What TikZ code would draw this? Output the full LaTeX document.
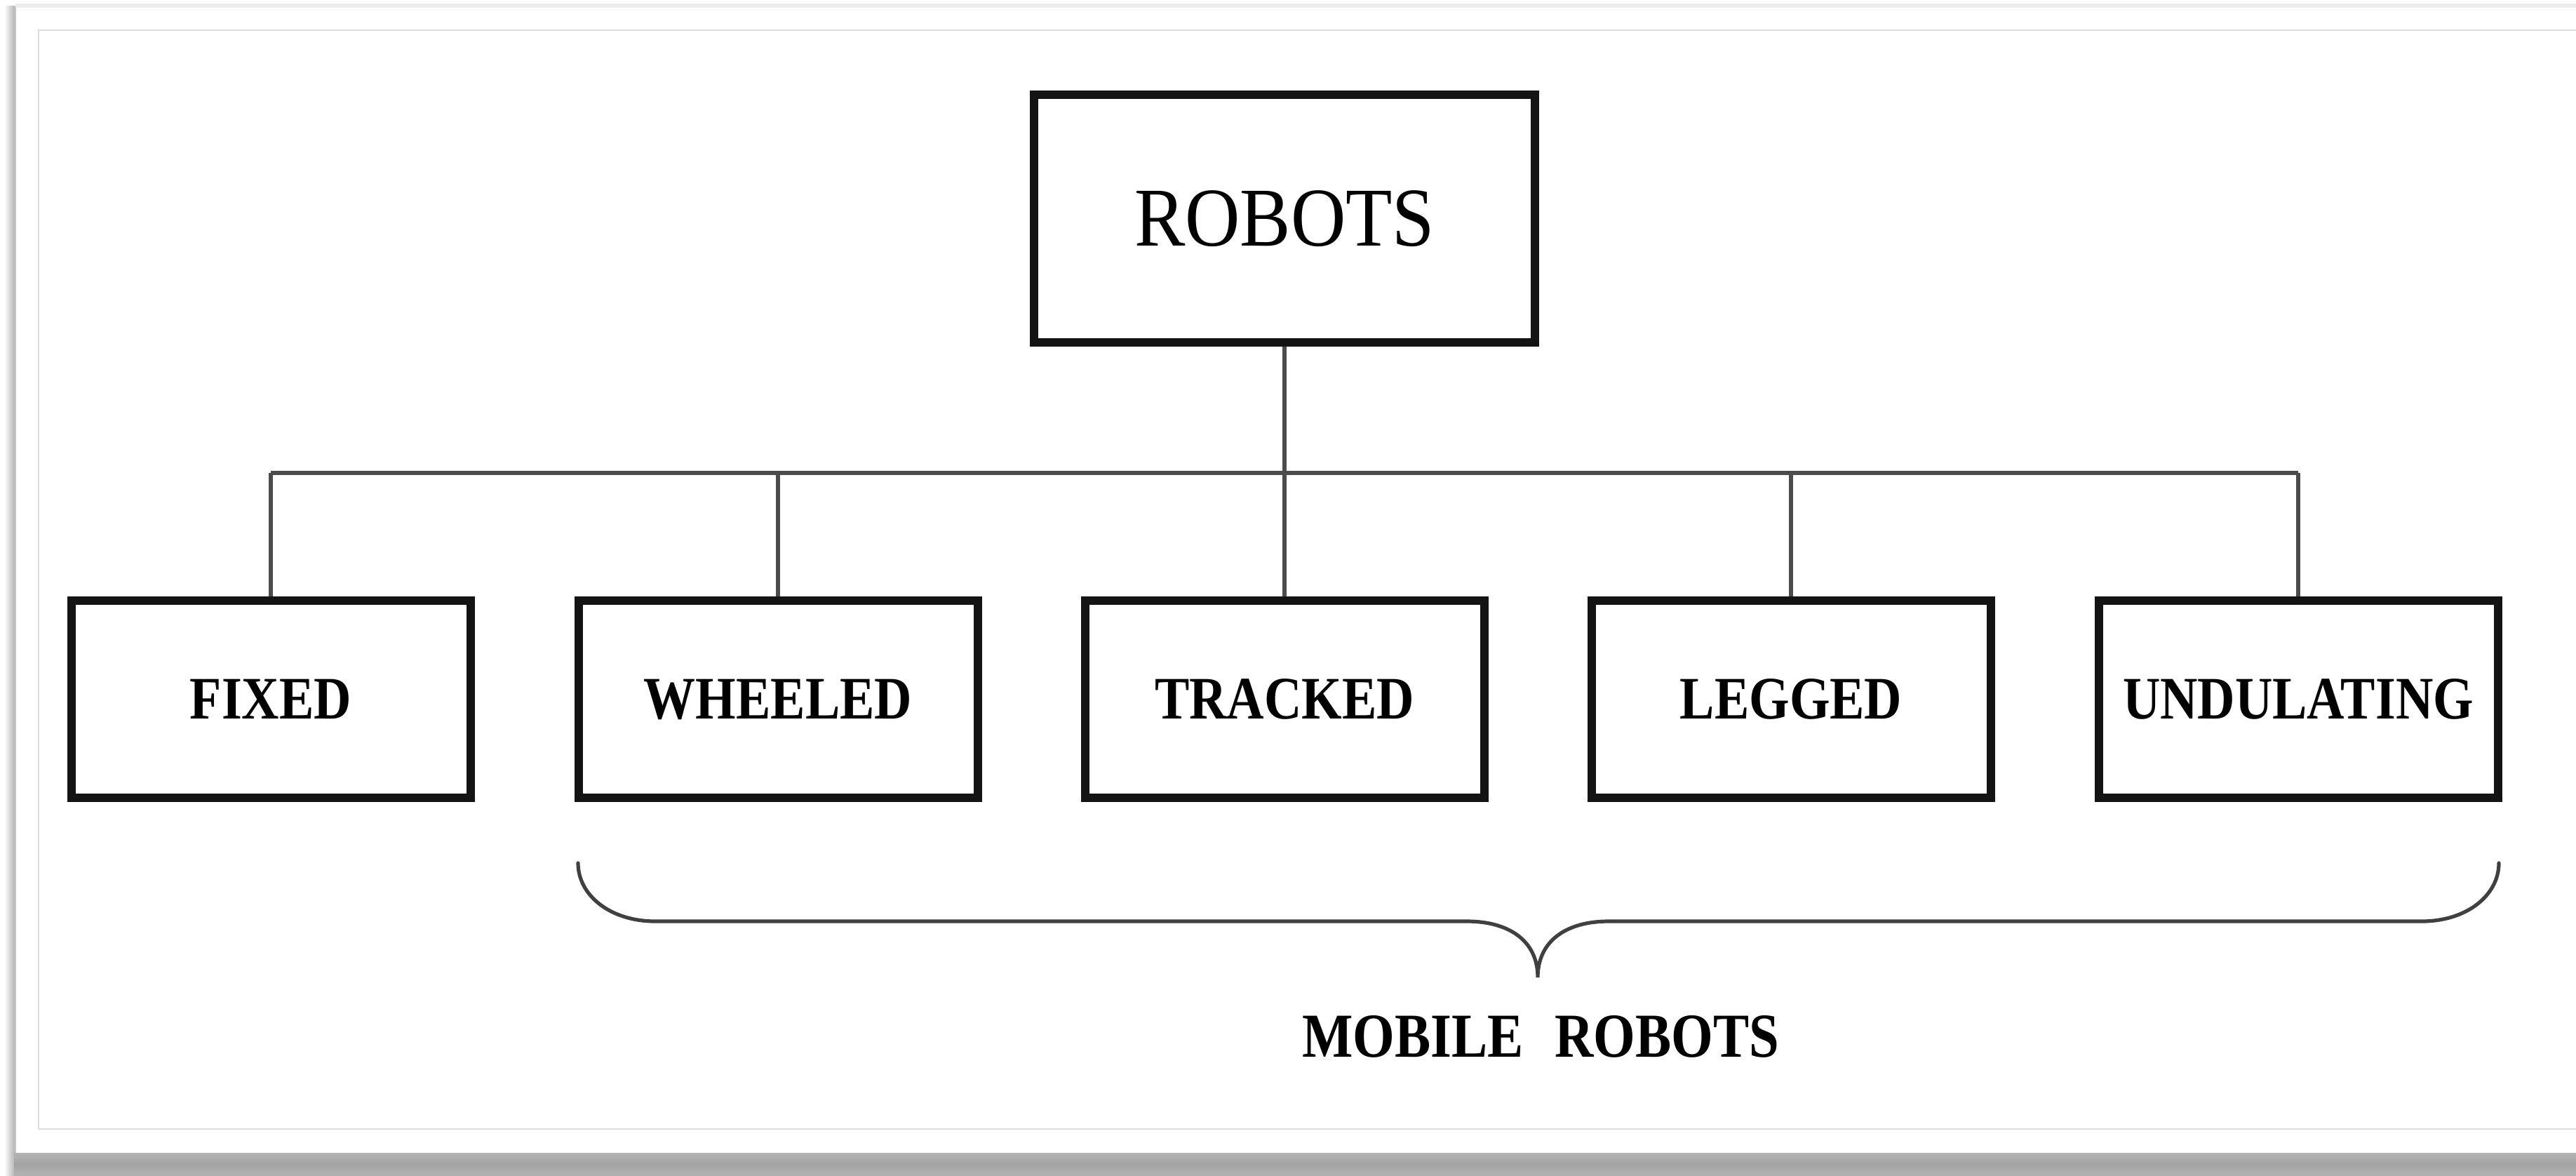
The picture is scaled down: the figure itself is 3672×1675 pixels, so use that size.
\documentclass[tikz,border=0pt]{standalone}
\usepackage{fontspec}
\newfontfamily\rootfont{Liberation Serif}[FakeStretch=0.91]
\newfontfamily\kidfont{Liberation Serif}[FakeStretch=0.86]
\usetikzlibrary{calc}
\begin{document}
\begin{tikzpicture}[x=0.25pt,y=-0.25pt,
  box/.style={draw=black!92, line width=3pt, inner sep=0pt, fill=white,
    minimum width=142.25pt, minimum height=70.25pt},
  kid/.style={box, font=\kidfont\bfseries\fontsize{21.5pt}{24pt}\selectfont},
  conn/.style={draw=black!70, line width=1.4pt},
  bracestyle/.style={draw=black!75, line width=1.3pt, line cap=round}]
\useasboundingbox (0,0) rectangle (3672,1675);
% frame and shadow
\fill[white] (0,0) rectangle (3672,1675);
\shade[left color=white, right color=black!32] (6,8) rectangle (22,1675);
\shade[top color=black!30, bottom color=black!30, middle color=black!36] (20,1643) rectangle (3672,1675);
\draw[black!22, line width=0.5pt] (22,8) -- (22,1643);
\draw[black!7, line width=1.5pt] (22,8) -- (3672,8);
\draw[black!13, line width=0.5pt] (3672,43) -- (55,43) -- (55,1609) -- (3672,1609);
% nodes
\node[box, minimum width=178.5pt, minimum height=88.25pt,
  font=\rootfont\fontsize{29.8pt}{32pt}\selectfont] (root) at (1831,311.5) {ROBOTS};
\node[kid] (fixed) at (386,996.5) {FIXED};
\node[kid] (wheeled) at (1109,996.5) {WHEELED};
\node[kid] (tracked) at (1831,996.5) {TRACKED};
\node[kid] (legged) at (2553,996.5) {LEGGED};
\node[kid] (undulating) at (3276,996.5) {UNDULATING};
% connectors
\coordinate (bus) at (0,674);
\draw[conn] (root.south) -- (root.south |- bus);
\draw[conn] (fixed.north |- bus) -- (undulating.north |- bus);
\foreach \n in {fixed,wheeled,tracked,legged,undulating}
  \draw[conn] (\n.north |- bus) -- (\n.north);
% brace
\coordinate (bL) at (824,1230);
\coordinate (tip) at (2192,1393);
\coordinate (bR) at (3562,1230);
\draw[bracestyle] (bL) .. controls (824,1276) and (870,1313) .. (934,1313)
  -- (2091,1313) .. controls (2150,1313) and (2192,1340) .. (tip)
  .. controls (2192,1340) and (2234,1313) .. (2293,1313)
  -- (3452,1313) .. controls (3516,1313) and (3562,1276) .. (bR);
\node[font=\kidfont\bfseries\fontsize{22.3pt}{25pt}\selectfont, inner sep=0pt]
  (mobile) at (2196,1477) {MOBILE\hspace{0.5em}ROBOTS};
\end{tikzpicture}
\end{document}
